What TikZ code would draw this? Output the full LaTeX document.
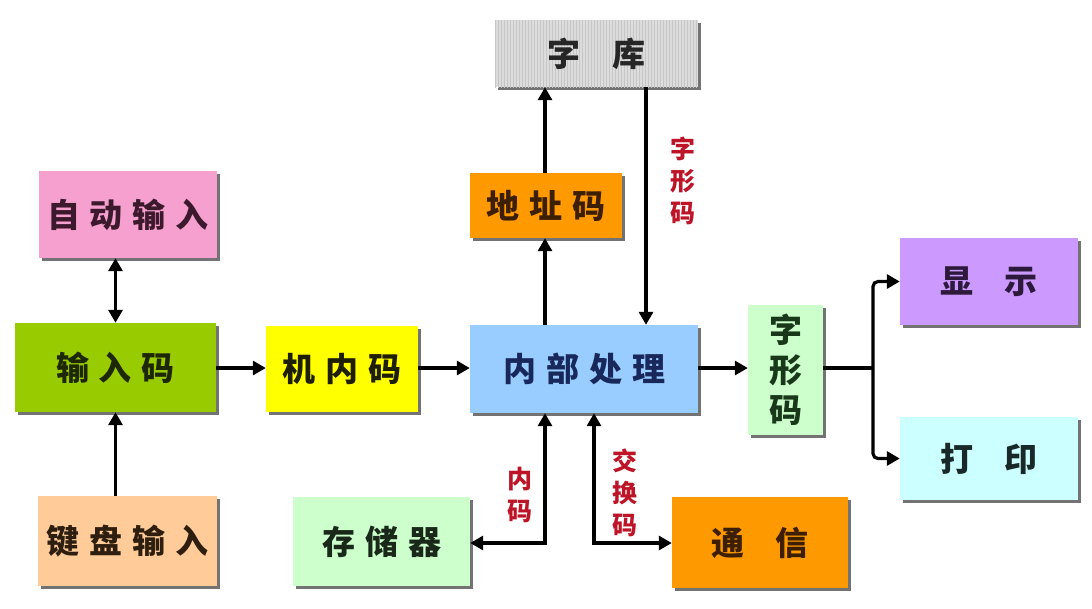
\documentclass[tikz,border=0pt]{standalone}
\usepackage{fontspec}
\newfontfamily\cjk{Noto Sans CJK SC}
\usetikzlibrary{arrows.meta,shadows,patterns,calc}
\definecolor{cpink}{HTML}{F5A0CE}
\definecolor{cgreen}{HTML}{99CC00}
\definecolor{cpeach}{HTML}{FFCC99}
\definecolor{cyellow}{HTML}{FFFF00}
\definecolor{cblue}{HTML}{99CCFF}
\definecolor{cgray}{HTML}{DCDCDC}
\definecolor{corange}{HTML}{FF9900}
\definecolor{clgreen}{HTML}{CCFFCC}
\definecolor{cviolet}{HTML}{CC99FF}
\definecolor{ccyan}{HTML}{CCFFFF}
\definecolor{cred}{RGB}{190,20,40}
\newcommand\gapS{\hspace{10pt}}
\newcommand\gapL{\hspace{32pt}}
\begin{document}
\begin{tikzpicture}[x=1pt,y=-1pt,
  box/.style={inner sep=0pt, align=center,
    font=\cjk\bfseries\fontsize{33}{40}\selectfont,
    drop shadow={shadow xshift=2.5pt,shadow yshift=-2.5pt,fill=black!55,opacity=1}},
  conn/.style={line width=3.2pt, -{Triangle[length=13pt,width=14pt]}},
  dconn/.style={line width=3.2pt, {Triangle[length=13pt,width=14pt]}-{Triangle[length=13pt,width=14pt]}},
  lbl/.style={inner sep=0pt, align=center, text=cred,
    font=\cjk\bfseries\fontsize{25}{32}\selectfont}]
\useasboundingbox (0,0) rectangle (1092,608);
\fill[white] (0,0) rectangle (1092,608);

\node[box, fill=cpink, text={rgb,255:red,60;green,25;blue,45}, minimum width=178pt, minimum height=87pt] (auto) at (128,214.5) {自\gapS 动\gapS 输\gapS 入};
\node[box, fill=cgreen, text={rgb,255:red,30;green,40;blue,0}, minimum width=201pt, minimum height=89pt] (inp) at (115.5,367.5) {输\gapS 入\gapS 码};
\node[box, fill=cpeach, text={rgb,255:red,45;green,30;blue,15}, minimum width=179pt, minimum height=90pt] (kbd) at (127.5,541) {键\gapS 盘\gapS 输\gapS 入};
\node[box, fill=cyellow, text={rgb,255:red,30;green,30;blue,0}, minimum width=152pt, minimum height=86pt] (jnm) at (342,369) {机\gapS 内\gapS 码};
\node[box, fill=cblue, text={rgb,255:red,25;green,40;blue,90}, minimum width=228pt, minimum height=88pt] (proc) at (584,369) {内\gapS 部\gapS 处\gapS 理};
\node[box, fill=cgray, postaction={pattern=vertical lines, pattern color=gray!45}, text=black!85, minimum width=203pt, minimum height=67pt] (lib) at (596.5,53.5) {字\gapL 库};
\node[box, fill=corange, text={rgb,255:red,60;green,30;blue,0}, minimum width=152pt, minimum height=65pt] (addr) at (546,205.5) {地\gapS 址\gapS 码};
\node[box, fill=clgreen, text={rgb,255:red,25;green,55;blue,25}, minimum width=75pt, minimum height=130pt] (glyph) at (785.5,370) {字\\形\\码};
\node[box, fill=cviolet, text={rgb,255:red,45;green,25;blue,60}, minimum width=178pt, minimum height=87pt] (disp) at (989,281.5) {显\gapL 示};
\node[box, fill=ccyan, text={rgb,255:red,25;green,40;blue,40}, minimum width=178pt, minimum height=83pt] (prn) at (989,458.5) {打\gapL 印};
\node[box, fill=clgreen, text={rgb,255:red,25;green,40;blue,25}, minimum width=177pt, minimum height=89pt] (mem) at (381.5,541.5) {存\gapS 储\gapS 器};
\node[box, fill=corange, text={rgb,255:red,60;green,30;blue,0}, minimum width=176pt, minimum height=91pt] (comm) at (760,542.5) {通\gapL 信};

\node[lbl] (l1) at (683,181) {字\\形\\码};
\node[lbl] (l2) at (520,495) {内\\码};
\node[lbl] (l3) at (625,493) {交\\换\\码};

\coordinate (xk) at (646,0);
\coordinate (xa) at (545,0);
\coordinate (xb) at (594,0);
\coordinate (yb) at (0,543);
\coordinate (xbr) at (873,0);
\coordinate (yh) at (0,368);

\draw[dconn] (auto.south -| inp.north) -- (inp.north);
\draw[conn] (kbd.north -| inp.south) -- (inp.south);
\draw[conn] (inp.east |- yh) -- (jnm.west |- yh);
\draw[conn] (jnm.east |- yh) -- (proc.west |- yh);
\draw[conn] (proc.east |- yh) -- (glyph.west |- yh);
\draw[conn] (proc.north -| xa) -- (addr.south -| xa);
\draw[conn] (addr.north -| xa) -- (lib.south -| xa);
\draw[conn] (lib.south -| xk) -- (proc.north -| xk);
\draw[dconn] (proc.south -| xa) -- (xa |- yb) -- (mem.east |- yb);
\draw[dconn] (proc.south -| xb) -- (xb |- yb) -- (comm.west |- yb);
\draw[line width=3.2pt] (glyph.east |- yh) -- (xbr |- yh);
\draw[conn, rounded corners=5pt] (xbr |- yh) -- (xbr |- disp.west) -- (disp.west);
\draw[conn, rounded corners=5pt] (xbr |- yh) -- (xbr |- prn.west) -- (prn.west);
\end{tikzpicture}
\end{document}
